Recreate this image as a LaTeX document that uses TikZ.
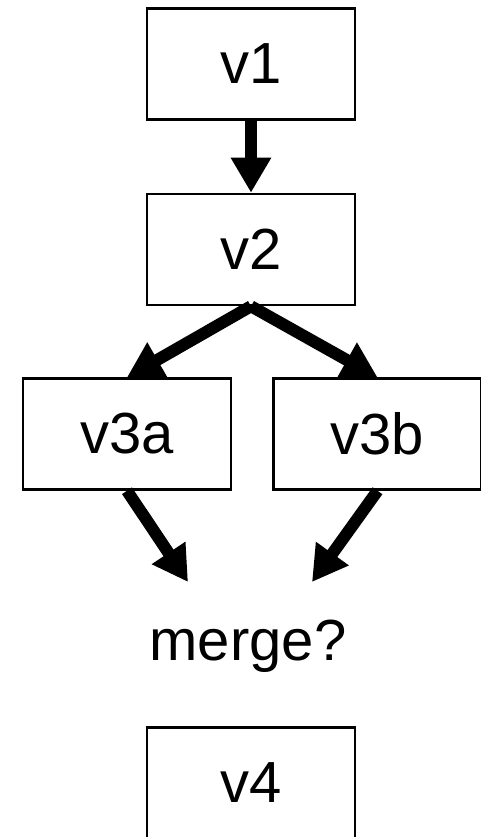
\documentclass[tikz,border=0pt]{standalone}
\usepackage{fontspec}
\setmainfont{Liberation Sans}
\usetikzlibrary{positioning}
\usetikzlibrary{arrows.meta}

\begin{document}
\begin{tikzpicture}[x=1pt,y=-1pt,
    every node/.style={font=\fontsize{58}{60}\selectfont},
    box/.style={draw,line width=2.5pt,minimum width=208pt,minimum height=111pt,inner sep=0pt},
    fat/.style={-{Triangle[length=35pt,width=38pt]},line width=12pt}]
	\useasboundingbox (0,0) rectangle (480,837);
		\node[box] (v1) at (251,64) {v1};
		\node[box] (v2) [below=72pt of v1] {v2};
		\draw[fat] (v1) -- (v2);
		\node[box] (v3a) [below=71pt of v2, xshift=-124pt] {v3a};
		\node[box] (v3b) [right=40pt of v3a] {v3b};
		\draw[fat] (v2.south) -- (v3a.north);
		\draw[fat] (v2.south) -- (v3b.north);
		%% where the two branches should meet
		\coordinate (ma) at (188,582);
		\coordinate (mb) at (312,582);
		\draw[fat] (v3a.south) -- (ma);
		\draw[fat] (v3b.south) -- (mb);
		\node (merge) at (248,660) [anchor=base] {merge?};
		\node[box] (v4) at (251,783) {v4};
	\end{tikzpicture}
\end{document}
